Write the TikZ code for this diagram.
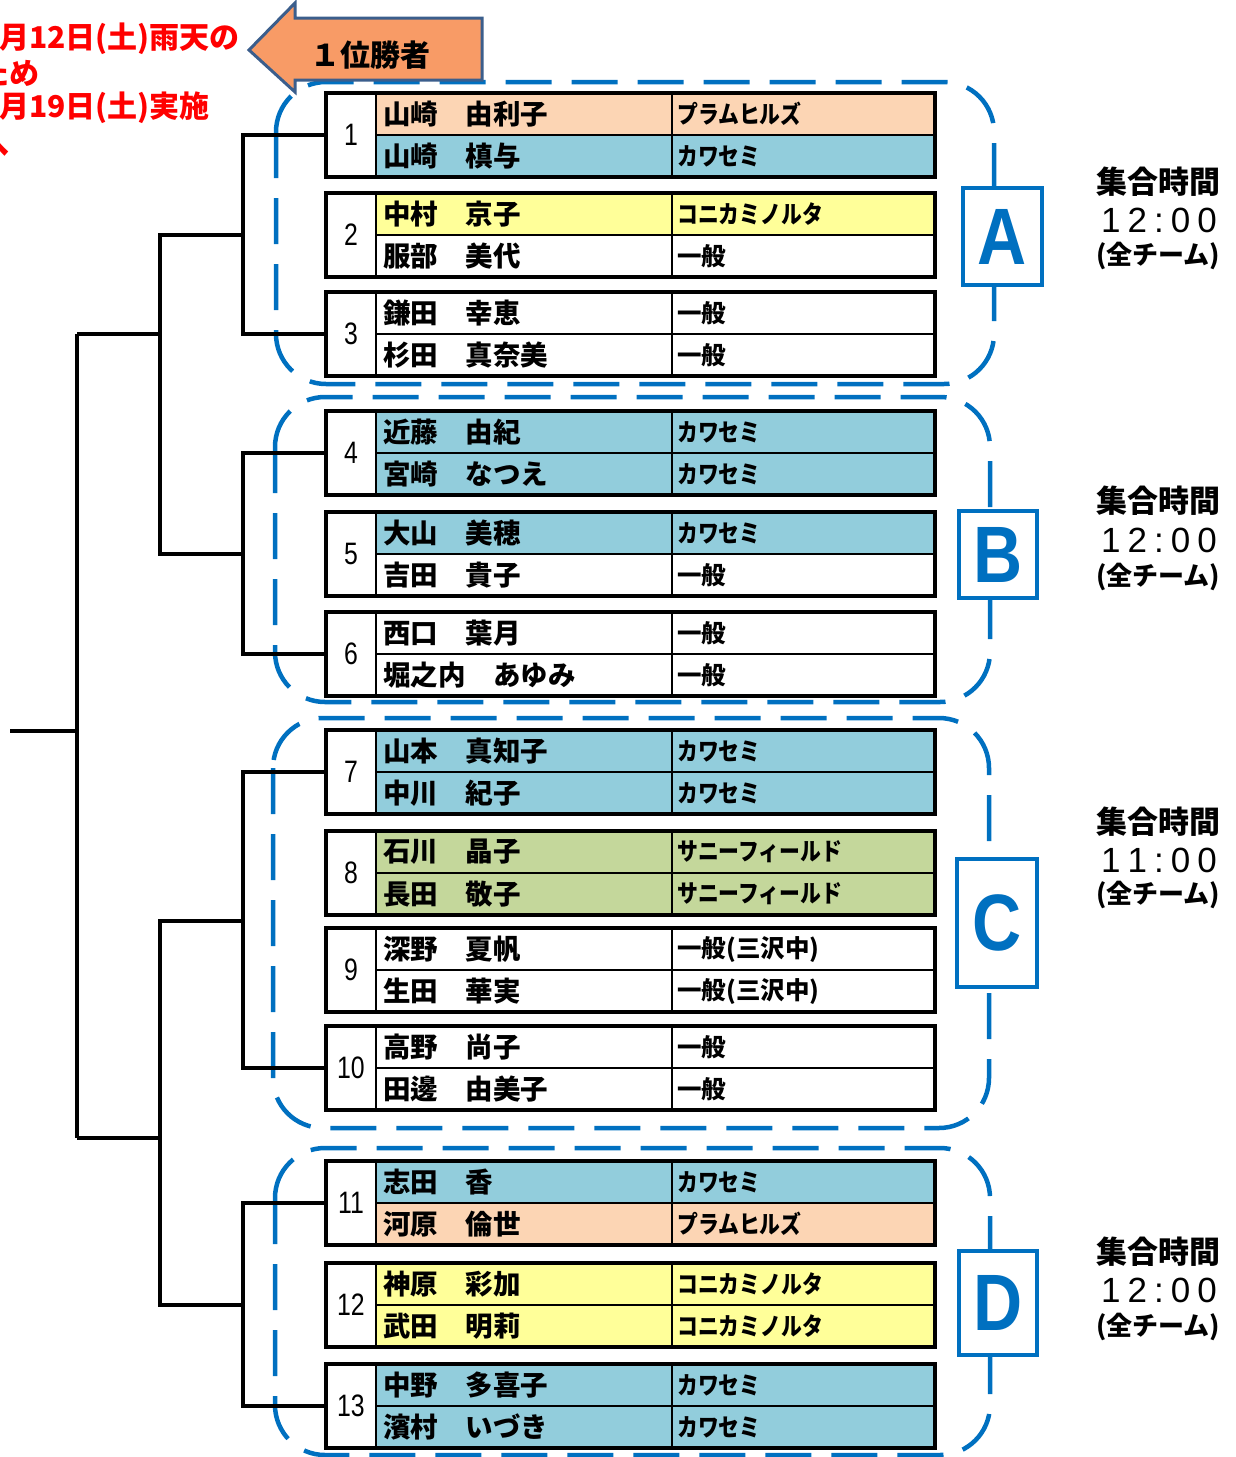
\documentclass[tikz,border=0pt]{standalone}
\usepackage{fontspec}
\setmainfont{Noto Sans CJK JP}
\newfontfamily\latf{Liberation Sans}
\usepackage{graphicx}
\definecolor{peach}{HTML}{FCD5B4}
\definecolor{kblue}{HTML}{92CDDC}
\definecolor{kyellow}{HTML}{FFFF99}
\definecolor{kgreen}{HTML}{C4D79B}
\definecolor{grpblue}{HTML}{0070C0}
\definecolor{arrfill}{HTML}{F89B66}
\definecolor{arrline}{HTML}{3B5E8C}
\newcommand\kata[1]{\scalebox{0.85}[1]{#1}}
\newcommand\tm[4]{#1\kern7pt#2\kern7pt:\kern7pt#3\kern7pt#4}
\tikzset{
 tblbox/.style={draw=black, line width=4pt, minimum width=609pt, minimum height=84pt, anchor=north west, inner sep=0pt, outer sep=0pt},
 innerln/.style={draw=black, line width=1.6pt},
 nametxt/.style={anchor=west, inner sep=0pt, font=\fontsize{27.5}{27.5}\selectfont\bfseries},
 clubtxt/.style={anchor=west, inner sep=0pt, font=\fontsize{24.5}{24.5}\selectfont\bfseries},
 numtxt/.style={inner sep=0pt, font=\latf\fontsize{31}{31}\selectfont},
 brk/.style={draw=black, line width=3.5pt},
 grp/.style={draw=grpblue, line width=4.5pt, rounded corners=50pt, dash pattern=on 46pt off 20pt},
 lbl/.style={draw=grpblue, line width=4pt, fill=white, text=grpblue, inner sep=0pt, font=\latf\bfseries\fontsize{80}{80}\selectfont},
 hdr/.style={inner sep=0pt, font=\fontsize{31}{31}\selectfont\bfseries},
 timetxt/.style={inner sep=0pt, font=\latf\fontsize{35}{35}\selectfont},
 subtxt/.style={inner sep=0pt, font=\fontsize{26}{26}\selectfont\bfseries},
 redtxt/.style={anchor=west, inner sep=0pt, text=red, font=\fontsize{30}{30}\selectfont\bfseries},
 arrsh/.style={draw=arrline, fill=arrfill, line width=3pt, line join=miter},
}
\newcommand\mrow[9]{%
 \fill[#6] (376,#2) rectangle (935,#2+42);
 \fill[#9] (376,#2+42) rectangle (935,#2+84);
 \draw[innerln] (376,#2+42) -- (935,#2+42);
 \draw[innerln] (376,#2) -- (376,#2+84);
 \draw[innerln] (672,#2) -- (672,#2+84);
 \node[tblbox] (t#1) at (326,#2) {};
 \node[numtxt] (n#1) at (351,#2+42) {\scalebox{0.8}[1]{#3}};
 \node[nametxt] (a#1) at (383,#2+21) {#4};
 \node[clubtxt] (c#1) at (677,#2+21) {#5};
 \node[nametxt] (b#1) at (383,#2+63) {#7};
 \node[clubtxt] (d#1) at (677,#2+63) {#8};
}
\begin{document}
\begin{tikzpicture}[x=1pt,y=-1pt]
\useasboundingbox (0,0) rectangle (1235,1457);
\clip (0,0) rectangle (1235,1457);
% group frames
\draw[grp] (276,82) rectangle (994,384);
\draw[grp] (275,397) rectangle (990,702);
\draw[grp] (273,718) rectangle (989,1128);
\draw[grp] (275,1148) rectangle (990,1455);
% arrow
\draw[arrsh] (249,50) -- (295,3) -- (295,18) -- (482,18) -- (482,80) -- (295,80) -- (295,92) -- cycle;
\node[inner sep=0pt, font=\fontsize{30}{30}\selectfont\bfseries] (win) at (370,55) {１位勝者};
% tables
\mrow{1}{93}{1}{山崎　由利子}{\kata{プラムヒルズ}}{peach}{山崎　槙与}{\kata{カワセミ}}{kblue}
\mrow{2}{193}{2}{中村　京子}{\kata{コニカミノルタ}}{kyellow}{服部　美代}{一般}{white}
\mrow{3}{292}{3}{鎌田　幸恵}{一般}{white}{杉田　真奈美}{一般}{white}
\mrow{4}{411}{4}{近藤　由紀}{\kata{カワセミ}}{kblue}{宮崎　なつえ}{\kata{カワセミ}}{kblue}
\mrow{5}{512}{5}{大山　美穂}{\kata{カワセミ}}{kblue}{吉田　貴子}{一般}{white}
\mrow{6}{612}{6}{西口　葉月}{一般}{white}{堀之内　あゆみ}{一般}{white}
\mrow{7}{730}{7}{山本　真知子}{\kata{カワセミ}}{kblue}{中川　紀子}{\kata{カワセミ}}{kblue}
\mrow{8}{831}{8}{石川　晶子}{\kata{サニーフィールド}}{kgreen}{長田　敬子}{\kata{サニーフィールド}}{kgreen}
\mrow{9}{928}{9}{深野　夏帆}{一般(三沢中)}{white}{生田　華実}{一般(三沢中)}{white}
\mrow{10}{1026}{10}{高野　尚子}{一般}{white}{田邊　由美子}{一般}{white}
\mrow{11}{1161}{11}{志田　香}{\kata{カワセミ}}{kblue}{河原　倫世}{\kata{プラムヒルズ}}{peach}
\mrow{12}{1263}{12}{神原　彩加}{\kata{コニカミノルタ}}{kyellow}{武田　明莉}{\kata{コニカミノルタ}}{kyellow}
\mrow{13}{1364}{13}{中野　多喜子}{\kata{カワセミ}}{kblue}{濱村　いづき}{\kata{カワセミ}}{kblue}
% bracket
\coordinate (jA) at (243,235);
\coordinate (jB) at (243,554);
\coordinate (jC) at (243,921);
\coordinate (jD) at (243,1305);
\coordinate (kAB) at (77,334);
\coordinate (kCD) at (77,1138);
\coordinate (root) at (10,731);
\draw[brk] (t1.west) -- ++(-83,0) |- (t3.west);
\draw[brk] (t4.west) -- ++(-83,0) |- (t6.west);
\draw[brk] (t7.west) -- ++(-83,0) |- (t10.west);
\draw[brk] (t11.west) -- ++(-83,0) |- (t13.west);
\draw[brk] (jA) -- ++(-83,0) |- (jB);
\draw[brk] (jC) -- ++(-83,0) |- (jD);
\draw[brk] (kAB) -- ++(83,0);
\draw[brk] (kCD) -- ++(83,0);
\draw[brk] (kAB) -- (kCD);
\draw[brk] (root) -- (root -| kAB);
% group labels
\node[lbl, minimum width=79pt, minimum height=97pt] (LA) at (1002.5,236.5) {\scalebox{0.85}[1]{A}};
\node[lbl, minimum width=78pt, minimum height=87pt] (LB) at (998,554.5) {\scalebox{0.85}[1]{B}};
\node[lbl, minimum width=80pt, minimum height=128pt] (LC) at (997,923) {\scalebox{0.85}[1]{C}};
\node[lbl, minimum width=78pt, minimum height=104pt] (LD) at (998,1303) {\scalebox{0.85}[1]{D}};
% times
\node[hdr] (hA1) at (1158,182) {集合時間};
\node[timetxt] (hA2) at (1159,220) {\tm{1}{2}{0}{0}};
\node[subtxt] (hA3) at (1158,256) {(全チーム)};
\node[hdr] (hB1) at (1158,501) {集合時間};
\node[timetxt] (hB2) at (1159,540) {\tm{1}{2}{0}{0}};
\node[subtxt] (hB3) at (1158,577) {(全チーム)};
\node[hdr] (hC1) at (1158,822) {集合時間};
\node[timetxt] (hC2) at (1159,860) {\tm{1}{1}{0}{0}};
\node[subtxt] (hC3) at (1158,895) {(全チーム)};
\node[hdr] (hD1) at (1158,1252) {集合時間};
\node[timetxt] (hD2) at (1159,1290) {\tm{1}{2}{0}{0}};
\node[subtxt] (hD3) at (1158,1327) {(全チーム)};
% red note
\node[redtxt] (r1) at (-1,39) {月12日(土)雨天の};
\node[redtxt] (r2) at (-21,73) {ため};
\node[redtxt] (r3) at (-1,108) {月19日(土)実施};
\node[redtxt] (r4) at (-21,146) {へ};
\end{tikzpicture}
\end{document}
